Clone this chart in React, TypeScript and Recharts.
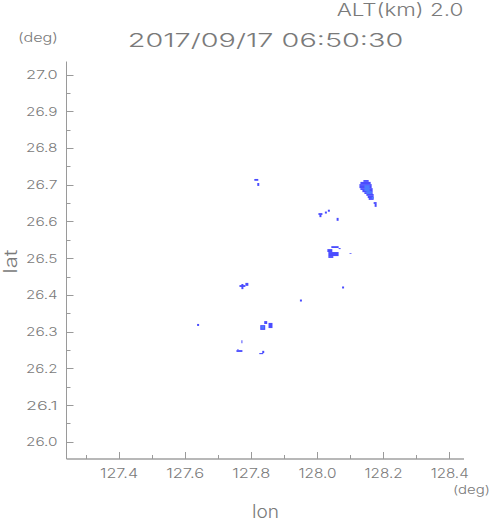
import React from 'react';
import { ScatterChart, Scatter, XAxis, YAxis, ReferenceArea } from 'recharts';

// ---- axes ----
const lonDomain: [number, number] = [127.2409, 128.4433];
const latDomain: [number, number] = [25.9545, 27.0368];
const lonMajorTicks = [127.4, 127.6, 127.8, 128.0, 128.2, 128.4];
const lonMinorTicks = [127.3, 127.5, 127.7, 127.9, 128.1, 128.3];
const latMajorTicks = [26.0, 26.1, 26.2, 26.3, 26.4, 26.5, 26.6, 26.7, 26.8, 26.9, 27.0];
const latMinorTicks = [26.05, 26.15, 26.25, 26.35, 26.45, 26.55, 26.65, 26.75, 26.85, 26.95];

// ---- texts ----
const titleText = '2017/09/17 06:50:30';
const altText = 'ALT(km) 2.0';
const unitText = '(deg)';
const xLabel = 'lon';
const yLabel = 'lat';

// ---- echo cells (lon0, lon1, lat0, lat1) ----
type Cell = { lon0: number; lon1: number; lat0: number; lat1: number };
const echoNorthEast: Cell[] = [
  { lon0: 128.139, lon1: 128.155, lat0: 26.709, lat1: 26.714 },
  { lon0: 128.130, lon1: 128.161, lat0: 26.703, lat1: 26.709 },
  { lon0: 128.127, lon1: 128.164, lat0: 26.698, lat1: 26.703 },
  { lon0: 128.127, lon1: 128.164, lat0: 26.692, lat1: 26.698 },
  { lon0: 128.130, lon1: 128.167, lat0: 26.687, lat1: 26.692 },
  { lon0: 128.136, lon1: 128.167, lat0: 26.681, lat1: 26.687 },
  { lon0: 128.142, lon1: 128.167, lat0: 26.676, lat1: 26.681 },
  { lon0: 128.148, lon1: 128.170, lat0: 26.671, lat1: 26.676 },
  { lon0: 128.152, lon1: 128.170, lat0: 26.665, lat1: 26.671 },
  { lon0: 128.155, lon1: 128.170, lat0: 26.660, lat1: 26.665 },
  { lon0: 128.170, lon1: 128.179, lat0: 26.649, lat1: 26.654 },
  { lon0: 128.173, lon1: 128.179, lat0: 26.641, lat1: 26.649 },
];
const echoNorthEastCore: Cell[] = [
  { lon0: 128.142, lon1: 128.158, lat0: 26.684, lat1: 26.700 },
  { lon0: 128.148, lon1: 128.164, lat0: 26.676, lat1: 26.684 },
  { lon0: 128.164, lon1: 128.170, lat0: 26.663, lat1: 26.668 },
];
const echoNorth: Cell[] = [
  { lon0: 127.809, lon1: 127.821, lat0: 26.712, lat1: 26.717 },
  { lon0: 127.818, lon1: 127.824, lat0: 26.698, lat1: 26.706 },
];
const echoCentreNorth: Cell[] = [
  { lon0: 128.003, lon1: 128.015, lat0: 26.619, lat1: 26.624 },
  { lon0: 128.006, lon1: 128.012, lat0: 26.613, lat1: 26.619 },
  { lon0: 128.058, lon1: 128.064, lat0: 26.603, lat1: 26.611 },
];
const echoCentre: Cell[] = [
  { lon0: 128.042, lon1: 128.064, lat0: 26.529, lat1: 26.534 },
  { lon0: 128.064, lon1: 128.070, lat0: 26.526, lat1: 26.529 },
  { lon0: 128.030, lon1: 128.045, lat0: 26.518, lat1: 26.526 },
  { lon0: 128.033, lon1: 128.064, lat0: 26.507, lat1: 26.518 },
  { lon0: 128.033, lon1: 128.048, lat0: 26.502, lat1: 26.507 },
  { lon0: 128.097, lon1: 128.103, lat0: 26.513, lat1: 26.515 },
];
const echoWest: Cell[] = [
  { lon0: 127.764, lon1: 127.782, lat0: 26.423, lat1: 26.428 },
  { lon0: 127.770, lon1: 127.776, lat0: 26.417, lat1: 26.431 },
  { lon0: 127.782, lon1: 127.791, lat0: 26.426, lat1: 26.434 },
];
const echoSouth: Cell[] = [
  { lon0: 127.827, lon1: 127.842, lat0: 26.306, lat1: 26.319 },
  { lon0: 127.839, lon1: 127.848, lat0: 26.322, lat1: 26.330 },
  { lon0: 127.852, lon1: 127.864, lat0: 26.311, lat1: 26.325 },
  { lon0: 127.770, lon1: 127.773, lat0: 26.270, lat1: 26.278 },
  { lon0: 127.755, lon1: 127.773, lat0: 26.246, lat1: 26.251 },
  { lon0: 127.758, lon1: 127.761, lat0: 26.251, lat1: 26.254 },
  { lon0: 127.833, lon1: 127.839, lat0: 26.243, lat1: 26.249 },
  { lon0: 127.824, lon1: 127.836, lat0: 26.240, lat1: 26.243 },
];
const echoSouthCore: Cell[] = [
  { lon0: 127.830, lon1: 127.839, lat0: 26.309, lat1: 26.317 },
];
const echoSpecks = [
  { lon: 128.0255, lat: 26.6255 },
  { lon: 128.0345, lat: 26.6305 },
  { lon: 127.950, lat: 26.386 },
  { lon: 128.0775, lat: 26.4215 },
  { lon: 127.639, lat: 26.3195 },
];

const ECHO = '#4a4cff';
const ECHO_CORE = '#4c7aff';
const TEXT = '#7a7a7a';
const TICK = '#9a9a9a';
const FONT = 'Inter, "Liberation Sans", Arial, sans-serif';
const WEIGHT = 300;
const ADJ = 'spacingAndGlyphs';

const isIn = (list: number[], v: number) => list.some((t) => Math.abs(t - v) < 1e-6);
const crisp = (v: number) => Math.round(v - 0.5) + 0.5;

const BottomTick = (p: any) => {
  const major = isIn(lonMajorTicks, p.payload.value);
  const x = crisp(p.x);
  return (
    <g>
      <line x1={x} x2={x} y1={p.y} y2={p.y - (major ? 7 : 4)} stroke={TICK} />
      {major && (
        <text x={p.x - 19} y={p.y + 18.5} fontFamily={FONT} fontWeight={WEIGHT} fontSize={13.5} fill={TEXT}
          textLength={38} lengthAdjust={ADJ}>
          {p.payload.value.toFixed(1)}
        </text>
      )}
    </g>
  );
};
const TopTick = (p: any) => {
  const major = isIn(lonMajorTicks, p.payload.value);
  const x = crisp(p.x);
  return <line x1={x} x2={x} y1={p.y} y2={p.y + (major ? 7 : 4)} stroke={TICK} />;
};
const LeftTick = (p: any) => {
  const major = isIn(latMajorTicks, p.payload.value);
  const y = crisp(p.y);
  return (
    <g>
      <line x1={p.x} x2={p.x + (major ? 7 : 4)} y1={y} y2={y} stroke={TICK} />
      {major && (
        <text x={p.x - 40.5} y={p.y + 4} fontFamily={FONT} fontWeight={WEIGHT} fontSize={11} fill={TEXT}
          textLength={31.5} lengthAdjust={ADJ}>
          {p.payload.value.toFixed(1)}
        </text>
      )}
    </g>
  );
};
const RightTick = (p: any) => {
  const major = isIn(latMajorTicks, p.payload.value);
  const y = crisp(p.y);
  return <line x1={p.x} x2={p.x - (major ? 7 : 4)} y1={y} y2={y} stroke={TICK} />;
};

const cellAreas = (cells: Cell[], fill: string, key: string) =>
  cells.map((c, i) => (
    <ReferenceArea key={key + i} xAxisId="b" yAxisId="l" x1={c.lon0} x2={c.lon1} y1={c.lat0} y2={c.lat1}
      fill={fill} fillOpacity={1} stroke="none" ifOverflow="visible" />
  ));

const lonTicks = [...lonMinorTicks, ...lonMajorTicks].sort((a, b) => a - b);
const latTicks = [...latMinorTicks, ...latMajorTicks].sort((a, b) => a - b);

export default function App() {
  return (
    <div style={{ position: 'absolute', left: 0, top: 0, width: 491, height: 521, background: '#fff' }}>
      <ScatterChart width={491} height={521} margin={{ top: 61.5, right: 27, bottom: 0, left: 0 }}>
        <XAxis xAxisId="b" type="number" dataKey="lon" domain={lonDomain} allowDataOverflow ticks={lonTicks}
          interval={0} orientation="bottom" height={62} tickSize={0} tickMargin={0} tickLine={false}
          axisLine={{ stroke: '#b8b8b8', strokeWidth: 2 }} tick={BottomTick} />
        <XAxis xAxisId="t" type="number" dataKey="lon" domain={lonDomain} allowDataOverflow ticks={lonTicks}
          interval={0} orientation="top" height={0} tickSize={0} tickMargin={0} tickLine={false}
          axisLine={{ stroke: TICK, strokeWidth: 1 }} tick={TopTick} />
        <YAxis yAxisId="l" type="number" dataKey="lat" domain={latDomain} allowDataOverflow ticks={latTicks}
          interval={0} orientation="left" width={66.5} tickSize={0} tickMargin={0} tickLine={false}
          axisLine={{ stroke: TICK, strokeWidth: 1 }} tick={LeftTick} />
        <YAxis yAxisId="r" type="number" dataKey="lat" domain={latDomain} allowDataOverflow ticks={latTicks}
          interval={0} orientation="right" width={0} tickSize={0} tickMargin={0} tickLine={false}
          axisLine={{ stroke: '#b8b8b8', strokeWidth: 2 }} tick={RightTick} />
        {cellAreas(echoNorthEast, ECHO, 'ne')}
        {cellAreas(echoNorthEastCore, ECHO_CORE, 'nec')}
        {cellAreas(echoNorth, ECHO, 'n')}
        {cellAreas(echoCentreNorth, ECHO, 'cn')}
        {cellAreas(echoCentre, ECHO, 'c')}
        {cellAreas(echoWest, ECHO, 'w')}
        {cellAreas(echoSouth, ECHO, 's')}
        {cellAreas(echoSouthCore, ECHO_CORE, 'sc')}
        <Scatter xAxisId="b" yAxisId="l" data={echoSpecks} isAnimationActive={false}
          shape={(p: any) => <rect x={p.cx - 1} y={p.cy - 1} width={2} height={2} fill={ECHO} />} />
      </ScatterChart>
      <svg width={491} height={521} style={{ position: 'absolute', left: 0, top: 0, pointerEvents: 'none' }}>
        <text x={336.7} y={16} fontFamily={FONT} fontWeight={WEIGHT} fontSize={17.5} fill={TEXT} textLength={126.7} lengthAdjust={ADJ}>{altText}</text>
        <text x={127.7} y={46.7} fontFamily={FONT} fontWeight={WEIGHT} fontSize={18.5} fill={TEXT} textLength={275.6} lengthAdjust={ADJ}>{titleText}</text>
        <text x={18} y={42.3} fontFamily={FONT} fontWeight={WEIGHT} fontSize={12.8} fill={TEXT} textLength={40} lengthAdjust={ADJ}>{unitText}</text>
        <text x={453} y={494.4} fontFamily={FONT} fontWeight={WEIGHT} fontSize={11.5} fill={TEXT} textLength={37} lengthAdjust={ADJ}>{unitText}</text>
        <text x={265.5} y={518} textAnchor="middle" fontFamily={FONT} fontWeight={WEIGHT} fontSize={18} fill={TEXT} textLength={27} lengthAdjust={ADJ}>{xLabel}</text>
        <text transform="translate(17,261.5) rotate(-90)" textAnchor="middle" fontFamily={FONT} fontWeight={WEIGHT} fontSize={18} fill={TEXT} textLength={24} lengthAdjust={ADJ}>{yLabel}</text>
      </svg>
    </div>
  );
}
